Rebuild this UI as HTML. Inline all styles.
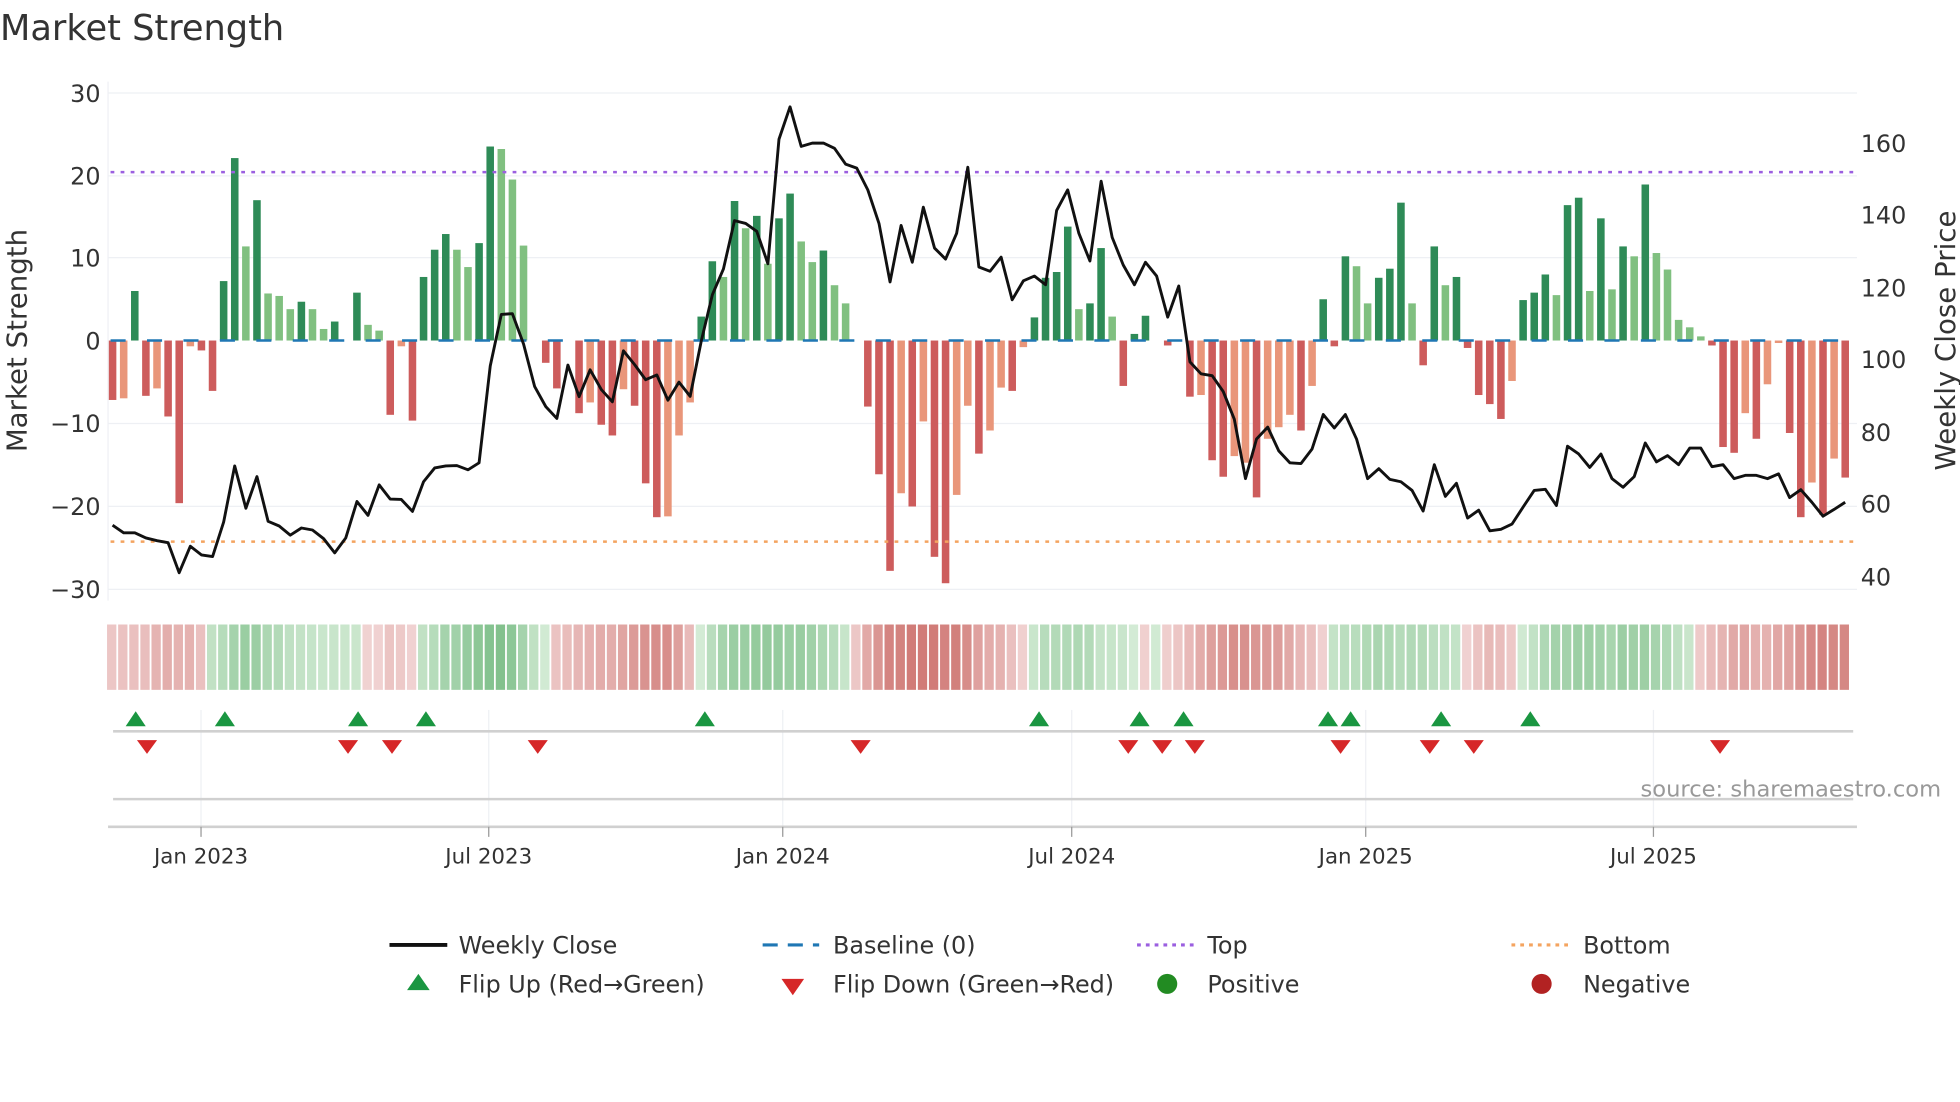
<!DOCTYPE html>
<html><head><meta charset="utf-8">
<style>
html,body{margin:0;padding:0;background:#fff;}
svg{display:block;font-family:"DejaVu Sans","Liberation Sans",sans-serif;}
</style></head>
<body>
<svg id="c" width="1960" height="1102" viewBox="0 0 1560 877" preserveAspectRatio="none" xmlns="http://www.w3.org/2000/svg">
<text x="0" y="32" font-size="28" fill="#333">Market Strength</text>
<g stroke="#eef0f4" stroke-width="1">
<line x1="86" x2="1478" y1="74" y2="74"/><line x1="86" x2="1478" y1="140" y2="140"/>
<line x1="86" x2="1478" y1="205" y2="205"/><line x1="86" x2="1478" y1="337" y2="337"/>
<line x1="86" x2="1478" y1="403" y2="403"/><line x1="86" x2="1478" y1="469" y2="469"/>
</g>
<line x1="86" x2="86" y1="65" y2="478" stroke="#eef0f4"/>
<g font-size="19" fill="#333" text-anchor="end">
<text x="80" y="81">30</text><text x="80" y="147">20</text><text x="80" y="212">10</text>
<text x="80" y="278">0</text><text x="80" y="344">−10</text><text x="80" y="410">−20</text><text x="80" y="476">−30</text>
</g>
<g font-size="19" fill="#333">
<text x="1481" y="121">160</text><text x="1481" y="178">140</text><text x="1481" y="236">120</text>
<text x="1481" y="293">100</text><text x="1481" y="351">80</text><text x="1481" y="408">60</text><text x="1481" y="466">40</text>
</g>
<text transform="translate(21,271) rotate(-90)" text-anchor="middle" font-size="22" fill="#333">Market Strength</text>
<text transform="translate(1556,271) rotate(-90)" text-anchor="middle" font-size="22" fill="#333">Weekly Close Price</text>
<g id="bars"></g>
<line x1="88" x2="1476" y1="271" y2="271" stroke="#1f77b4" stroke-width="2" stroke-dasharray="12,17"/>
<line x1="88" x2="1476" y1="137" y2="137" stroke="#9b5fe0" stroke-width="2" stroke-dasharray="3,5"/>
<line x1="88" x2="1476" y1="431" y2="431" stroke="#f4a460" stroke-width="2" stroke-dasharray="3,5"/>
<polyline id="price" fill="none" stroke="#111" stroke-width="2.3" stroke-linejoin="round"/>
<g id="heat"></g>
<g stroke="#eef0f4"><line x1="160" x2="160" y1="565" y2="658"/><line x1="389" x2="389" y1="565" y2="658"/><line x1="623" x2="623" y1="565" y2="658"/><line x1="853" x2="853" y1="565" y2="658"/><line x1="1087" x2="1087" y1="565" y2="658"/><line x1="1316" x2="1316" y1="565" y2="658"/></g>
<line x1="90" x2="1475" y1="582" y2="582" stroke="#d0d0d0" stroke-width="2"/>
<line x1="90" x2="1475" y1="636" y2="636" stroke="#d0d0d0" stroke-width="2"/>
<line x1="86" x2="1478" y1="658" y2="658" stroke="#d0d0d0" stroke-width="2"/>
<g stroke="#999"><line x1="160" x2="160" y1="658" y2="666"/><line x1="389" x2="389" y1="658" y2="666"/><line x1="623" x2="623" y1="658" y2="666"/><line x1="853" x2="853" y1="658" y2="666"/><line x1="1087" x2="1087" y1="658" y2="666"/><line x1="1316" x2="1316" y1="658" y2="666"/></g>
<g id="flips"></g>
<g font-size="17" fill="#333" text-anchor="middle">
<text x="160" y="687">Jan 2023</text><text x="389" y="687">Jul 2023</text><text x="623" y="687">Jan 2024</text>
<text x="853" y="687">Jul 2024</text><text x="1087" y="687">Jan 2025</text><text x="1316" y="687">Jul 2025</text>
</g>
<text x="1545" y="634" text-anchor="end" font-size="18" fill="#999">source: sharemaestro.com</text>
<g font-size="19" fill="#333">
<line x1="310" x2="356" y1="752" y2="752" stroke="#111" stroke-width="3"/><text x="365" y="759">Weekly Close</text>
<line x1="607" x2="652" y1="752" y2="752" stroke="#1f77b4" stroke-width="2.5" stroke-dasharray="12,8"/><text x="663" y="759">Baseline (0)</text>
<line x1="905" x2="950" y1="752" y2="752" stroke="#9b5fe0" stroke-width="2.5" stroke-dasharray="3,4"/><text x="961" y="759">Top</text>
<line x1="1203" x2="1248" y1="752" y2="752" stroke="#f4a460" stroke-width="2.5" stroke-dasharray="3,4"/><text x="1260" y="759">Bottom</text>
<polygon points="324,788 342,788 333,775" fill="#1a9641"/><text x="365" y="790">Flip Up (Red→Green)</text>
<polygon points="622,779 640,779 631,792" fill="#d62728"/><text x="663" y="790">Flip Down (Green→Red)</text>
<circle cx="929" cy="783" r="8" fill="#228b22"/><text x="961" y="790">Positive</text>
<circle cx="1227" cy="783" r="8" fill="#b22222"/><text x="1260" y="790">Negative</text>
</g>
</svg>
<script>
var B=[[-7.2,1],[-7,0],[6,1],[-6.7,1],[-5.8,0],[-9.2,1],[-19.7,1],[-0.7,0],[-1.2,1],[-6.1,1],[7.2,1],[22.1,1],[11.4,0],[17,1],[5.7,0],[5.4,0],[3.8,0],[4.7,1],[3.8,0],[1.4,0],[2.3,1],[0,0],[5.8,1],[1.9,0],[1.2,0],[-9,1],[-0.7,0],[-9.7,1],[7.7,1],[11,1],[12.9,1],[11,0],[8.9,0],[11.8,1],[23.5,1],[23.2,0],[19.5,0],[11.5,0],[0,0],[-2.7,1],[-5.8,1],[0,0],[-8.8,1],[-7.5,0],[-10.2,1],[-11.5,1],[-5.9,0],[-7.9,1],[-17.3,1],[-21.4,1],[-21.3,0],[-11.5,0],[-7.5,0],[2.9,1],[9.6,1],[7.7,0],[16.9,1],[13.6,0],[15.1,1],[9.3,0],[14.8,1],[17.8,1],[12,0],[9.5,0],[10.9,1],[6.7,0],[4.5,0],[0,0],[-8,1],[-16.2,1],[-27.9,1],[-18.5,0],[-20.1,1],[-9.8,0],[-26.2,1],[-29.4,1],[-18.7,0],[-7.9,0],[-13.7,1],
[-10.9,0],[-5.7,0],[-6.1,1],[-0.8,0],[2.8,1],[7.6,1],[8.3,1],[13.8,1],[3.8,0],[4.5,1],[11.2,1],[2.9,0],[-5.5,1],[0.8,1],[3,1],[0,0],[-0.6,1],[0,0],[-6.8,1],[-6.6,0],[-14.5,1],[-16.5,1],[-14,0],[-14.8,0],[-19,1],[-11.9,0],[-10.5,0],[-9,0],[-10.9,1],[-5.5,0],[5,1],[-0.7,1],[10.2,1],[9,0],[4.5,0],[7.6,1],[8.7,1],[16.7,1],[4.5,0],[-3,1],[11.4,1],[6.7,0],[7.7,1],[-0.9,1],[-6.6,1],[-7.7,1],[-9.5,1],[-4.9,0],[4.9,1],[5.8,1],[8,1],[5.5,0],[16.4,1],[17.3,1],[6,0],[14.8,1],[6.2,0],[11.4,1],[10.2,0],[18.9,1],[10.6,0],[8.6,0],[2.5,0],[1.6,0],[0.5,0],[-0.6,1],[-12.9,1],[-13.6,1],[-8.8,0],[-11.9,1],[-5.3,0],[-0.3,0],[-11.2,1],[-21.4,1],[-17.2,0],[-21.1,1],[-14.3,0],[-16.6,1]];
var P1=[1328,1347,1347,1360,1367,1372,1448,1381,1403,1407,1320,1178,1285,1205,1318,1330,1353,1335,1340,1362,1398,1360,1268,1303,1226,1262,1263,1293,1218,1183,1178,1177,1188,1170,925,795,793,870,977,1028,1058,923,1003,935,985,1016,887,922,960,948,1012,966,1002,863,745,680,558,565,585,667,352,270,370,362,362,375,415,425,480,565,713,570,663,524,627,655,590,423,675,
686,650,758,710,698,720,532,480,590,660,458,600,670,720,663,698,802,723,915,945,950,990,1060,1210,1110,1080,1140,1170,1172,1135,1048,1082,1048,1110,1210,1185,1212,1218,1240,1292,1175,1255,1222,1310,1290,1342,1338,1325,1282,1240,1237,1278,1128,1148,1182,1148,1210,1232,1205,1120,1168,1152,1175,1133,1133,1180,1175,1210,1202,1202,1210,1198,1258,1238,1270,1305,1288,1270];
var NS="http://www.w3.org/2000/svg";
function el(t,a,p){var e=document.createElementNS(NS,t);for(var k in a)e.setAttribute(k,a[k]);p.appendChild(e);return e;}
var bars=document.getElementById('bars'),heat=document.getElementById('heat');
var step=8.84,x0=89.6,pts=[];
function mix(a,b,t){return 'rgb('+[0,1,2].map(function(i){return Math.round(a[i]+(b[i]-a[i])*t)}).join(',')+')';}
for(var i=0;i<B.length;i++){
 var v=B[i][0],d=B[i][1],x=x0+i*step;
 var col=v>=0?(d?'#2e8b57':'#80c080'):(d?'#cd5c5c':'#e9967a');
 var y0=271,y1=271-v*6.57;
 if(Math.abs(v)>0.05) el('rect',{x:x-3,y:Math.min(y0,y1),width:6,height:Math.abs(y1-y0),fill:col},bars);
 // smoothed intensity
 var s=0,n=0;for(var k=-2;k<=2;k++){if(B[i+k]){s+=B[i+k][0];n++;}}s/=n;
 var t=Math.min(1,Math.abs(s)/20);t=0.1+0.7*t;
 var c=s>=0?mix([225,242,225],[95,175,110],t):mix([245,222,222],[200,100,95],t);
 el('rect',{x:x-4.4,y:497,width:7.4,height:52,fill:c},heat);
}
for(var j=0;j<P1.length;j++){pts.push((x0+j*step).toFixed(1)+','+(P1[j]/3.177).toFixed(1));}
document.getElementById('price').setAttribute('points',pts.join(' '));
var fl=document.getElementById('flips');
[108,179,285,339,561,827,907,942,1057,1075,1147,1218].forEach(function(x){el('polygon',{points:(x-8)+',578 '+(x+8)+',578 '+x+',566',fill:'#1a9641'},fl);});
[117,277,312,428,685,898,925,951,1067,1138,1173,1369].forEach(function(x){el('polygon',{points:(x-8)+',589 '+(x+8)+',589 '+x+',600',fill:'#d62728'},fl);});
</script>
</body></html>
